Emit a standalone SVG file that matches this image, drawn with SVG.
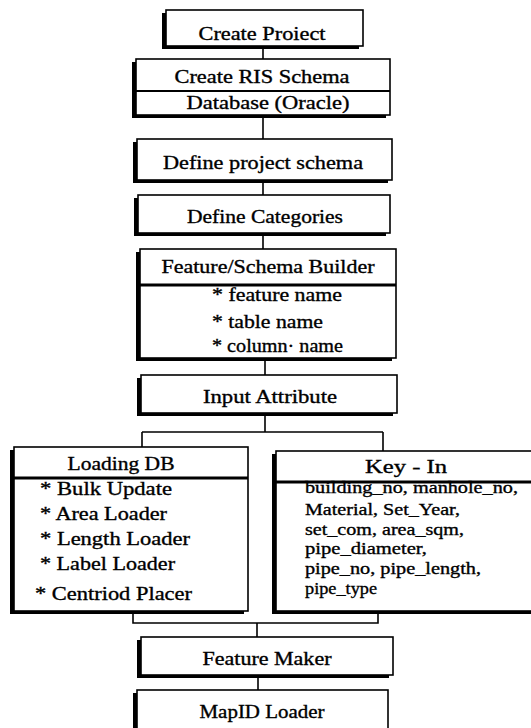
<svg xmlns="http://www.w3.org/2000/svg" width="531" height="728" viewBox="0 0 531 728">
<style>
.sh{fill:#000}
.bx{fill:#fff;stroke:#000;stroke-width:1.6}
.dv{stroke:#000;stroke-width:3}
.cn{stroke:#000;stroke-width:1.6;fill:none}
text{font-family:"Liberation Serif","Times New Roman",serif;font-size:18.5px;fill:#000;stroke:#000;stroke-width:0.35}
.c{text-anchor:middle}
.s{font-size:17px}
</style>
<rect width="531" height="728" fill="#fff"/>
<g id="connectors">
<path class="cn" d="M263 46V59M263 115V139M263 180V195M263 233V249M265 358V375M265 413V432M142 432H383M142 432V447M383 432V451M133 611V623H378V611M257 623V637M258 675V690"/>
</g>
<g id="create-project">
<rect class="sh" x="162" y="13" width="197" height="36"/>
<rect class="bx" x="166" y="10" width="197" height="36"/>
<text class="c" x="262" y="40" textLength="127" lengthAdjust="spacingAndGlyphs">Create Proiect</text>
</g>
<g id="ris-schema">
<rect class="sh" x="132" y="62" width="254" height="56"/>
<rect class="bx" x="136" y="59" width="254" height="56"/>
<line class="dv" x1="136" y1="91" x2="390" y2="91" style="stroke-width:2"/>
<text class="c" x="262" y="83" textLength="175" lengthAdjust="spacingAndGlyphs">Create RIS Schema</text>
<text class="c" x="268" y="109" textLength="163" lengthAdjust="spacingAndGlyphs">Database (Oracle)</text>
</g>
<g id="define-project-schema">
<rect class="sh" x="133" y="142" width="255" height="41"/>
<rect class="bx" x="137" y="139" width="255" height="41"/>
<text class="c" x="263" y="169" textLength="200" lengthAdjust="spacingAndGlyphs">Define project schema</text>
</g>
<g id="define-categories">
<rect class="sh" x="134" y="198" width="252" height="38"/>
<rect class="bx" x="138" y="195" width="252" height="38"/>
<text class="c" x="265" y="223" textLength="156" lengthAdjust="spacingAndGlyphs">Define Categories</text>
</g>
<g id="feature-schema-builder">
<rect class="sh" x="136" y="252" width="256" height="109"/>
<rect class="bx" x="140" y="249" width="256" height="109"/>
<line class="dv" x1="140" y1="285" x2="396" y2="285"/>
<text class="c" x="268" y="273" textLength="213" lengthAdjust="spacingAndGlyphs">Feature/Schema Builder</text>
<text x="212" y="301" textLength="130" lengthAdjust="spacingAndGlyphs">* feature name</text>
<text x="212" y="328" textLength="111" lengthAdjust="spacingAndGlyphs">* table name</text>
<text x="212" y="352" textLength="131" lengthAdjust="spacingAndGlyphs">* column· name</text>
</g>
<g id="input-attribute">
<rect class="sh" x="137" y="378" width="256" height="38"/>
<rect class="bx" x="141" y="375" width="256" height="38"/>
<text class="c" x="270" y="403" textLength="134" lengthAdjust="spacingAndGlyphs">Input Attribute</text>
</g>
<g id="loading-db">
<rect class="sh" x="10" y="450" width="234" height="164"/>
<rect class="bx" x="14" y="447" width="234" height="164"/>
<line class="dv" x1="14" y1="478" x2="248" y2="478"/>
<text class="c" x="121" y="470" textLength="107" lengthAdjust="spacingAndGlyphs">Loading DB</text>
<text x="40" y="495" textLength="132" lengthAdjust="spacingAndGlyphs">* Bulk Update</text>
<text x="40" y="520" textLength="127" lengthAdjust="spacingAndGlyphs">* Area Loader</text>
<text x="40" y="545" textLength="150" lengthAdjust="spacingAndGlyphs">* Length Loader</text>
<text x="40" y="570" textLength="135" lengthAdjust="spacingAndGlyphs">* Label Loader</text>
<text x="35" y="600" textLength="157" lengthAdjust="spacingAndGlyphs">* Centriod Placer</text>
</g>
<g id="key-in">
<rect class="sh" x="272" y="454" width="270" height="160"/>
<rect class="bx" x="276" y="451" width="270" height="160"/>
<line class="dv" x1="276" y1="482" x2="531" y2="482"/>
<text class="c" x="406" y="473" textLength="82" lengthAdjust="spacingAndGlyphs">Key  -  In</text>
<text class="s" x="305" y="493" textLength="213" lengthAdjust="spacingAndGlyphs">building_no, manhole_no,</text>
<text class="s" x="305" y="515" textLength="155" lengthAdjust="spacingAndGlyphs">Material, Set_Year,</text>
<text class="s" x="305" y="535" textLength="159" lengthAdjust="spacingAndGlyphs">set_com, area_sqm,</text>
<text class="s" x="305" y="554" textLength="122" lengthAdjust="spacingAndGlyphs">pipe_diameter,</text>
<text class="s" x="305" y="574" textLength="176" lengthAdjust="spacingAndGlyphs">pipe_no, pipe_length,</text>
<text class="s" x="305" y="594" textLength="72" lengthAdjust="spacingAndGlyphs">pipe_type</text>
</g>
<g id="feature-maker">
<rect class="sh" x="137" y="640" width="252" height="38"/>
<rect class="bx" x="141" y="637" width="252" height="38"/>
<text class="c" x="267" y="665" textLength="129" lengthAdjust="spacingAndGlyphs">Feature Maker</text>
</g>
<g id="mapid-loader">
<rect class="sh" x="133" y="693" width="251" height="50"/>
<rect class="bx" x="137" y="690" width="251" height="50"/>
<text class="c" x="262" y="718" textLength="125" lengthAdjust="spacingAndGlyphs">MapID Loader</text>
</g>
</svg>
